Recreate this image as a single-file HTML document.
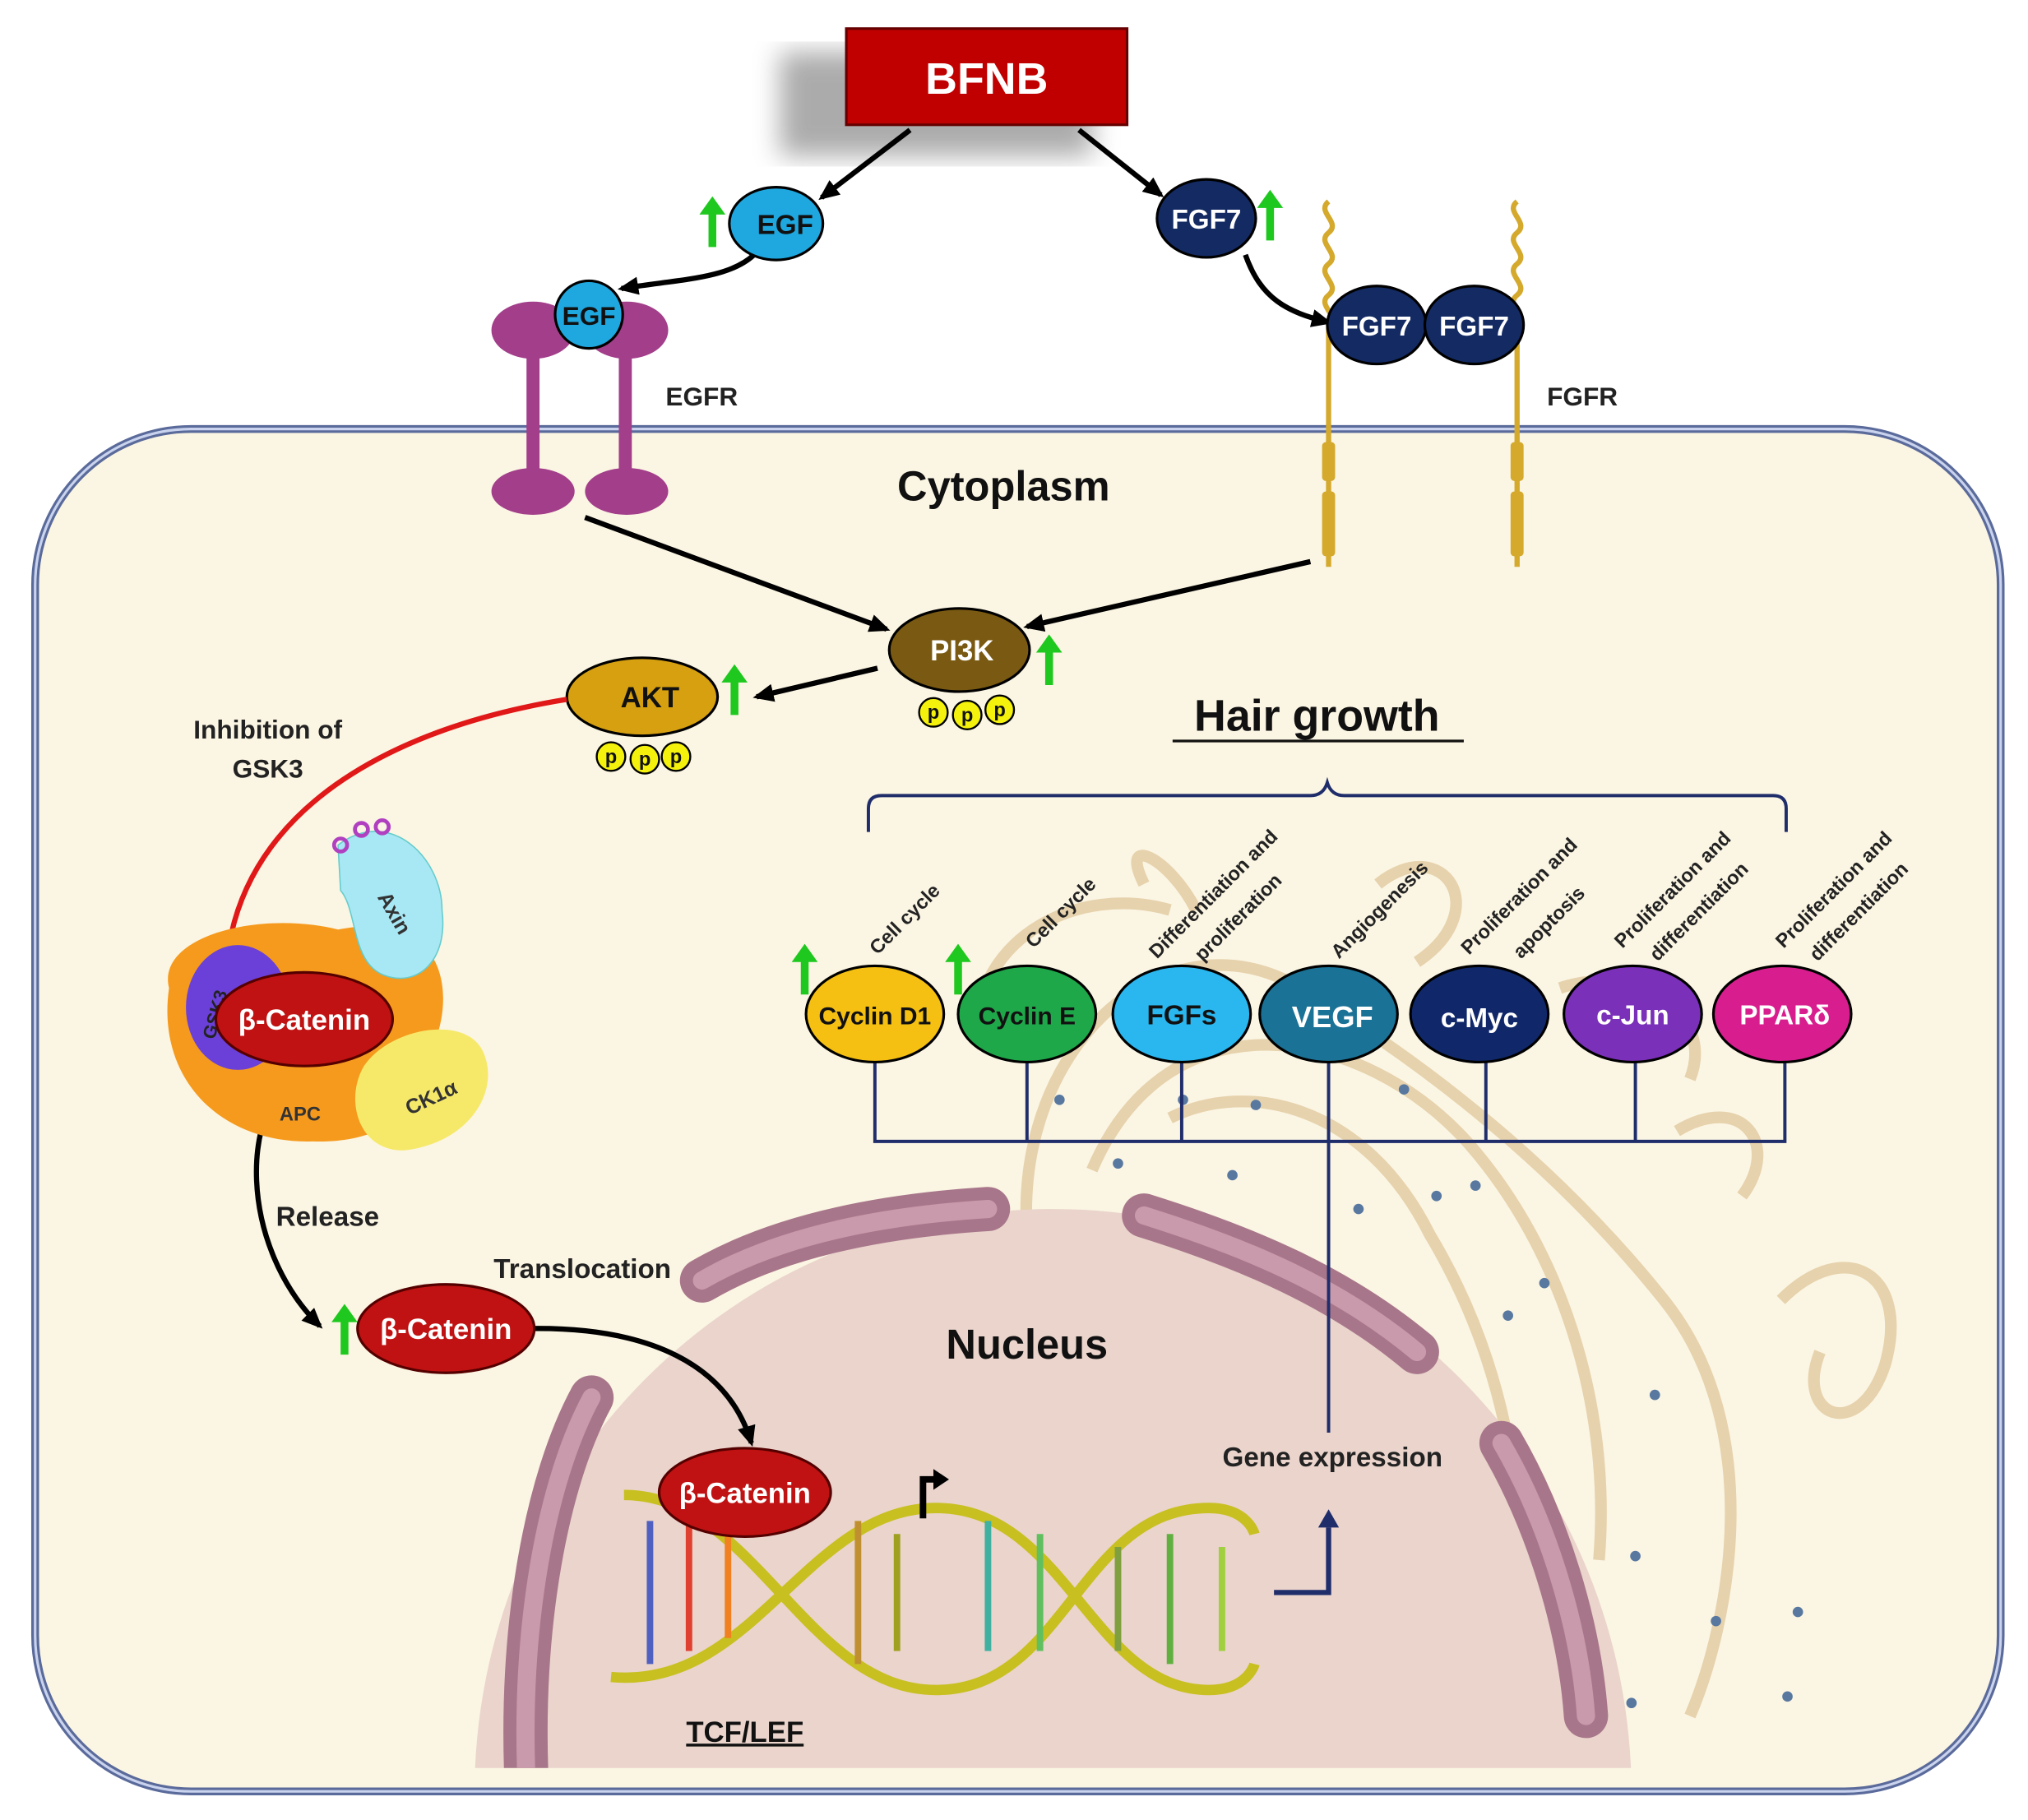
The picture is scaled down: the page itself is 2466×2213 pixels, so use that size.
<!DOCTYPE html>
<html><head><meta charset="utf-8"><style>
html,body{margin:0;padding:0;background:#fff;overflow:hidden;width:2466px;height:2213px}
svg{display:block}
text{font-family:"Liberation Sans",sans-serif;font-weight:bold}
</style></head><body>
<svg width="2466" height="2213" viewBox="0 0 1560 1400" xmlns="http://www.w3.org/2000/svg">
<defs>
<marker id="ah" markerWidth="16" markerHeight="14" refX="13" refY="7" orient="auto" markerUnits="userSpaceOnUse"><path d="M0,0 L16,7 L0,14 z" fill="#000"/></marker>
<marker id="ab" markerWidth="16" markerHeight="14" refX="13" refY="7" orient="auto" markerUnits="userSpaceOnUse"><path d="M0,0 L16,7 L0,14 z" fill="#1f2d6b"/></marker>
<filter id="sh"><feGaussianBlur stdDeviation="10"/></filter>
</defs>
<rect width="1560" height="1400" fill="#fff"/>
<rect x="27" y="330" width="1512" height="1048" rx="120" fill="#fbf5e3" stroke="#5a6a9a" stroke-width="6"/>
<rect x="27" y="330" width="1512" height="1048" rx="120" fill="none" stroke="#c9d3ee" stroke-width="2"/>
<g fill="none" stroke="#e6d2ac" stroke-width="9">
<path d="M790,950 C780,800 900,700 1000,760 C1100,820 1200,900 1280,1000 C1360,1100 1330,1250 1300,1320"/>
<path d="M840,900 C900,760 1050,790 1130,880 C1200,960 1240,1080 1230,1200"/>
<path d="M900,860 C960,830 1050,850 1100,950 C1160,1050 1170,1150 1170,1220"/>
<path d="M750,800 C750,720 830,680 900,700"/>
<path d="M880,680 C860,640 900,660 920,700"/>
<path d="M1370,1000 C1420,950 1470,980 1450,1050 C1430,1110 1380,1090 1400,1040"/>
<path d="M1290,870 C1340,840 1370,880 1340,920"/>
<path d="M1060,680 C1110,640 1150,700 1090,740"/>
<path d="M1200,760 C1260,740 1320,780 1300,830"/>
</g>
<g fill="#5878a0">
<circle cx="815" cy="846" r="4"/><circle cx="910" cy="846" r="4"/><circle cx="966" cy="850" r="4"/><circle cx="1080" cy="838" r="4"/><circle cx="860" cy="895" r="4"/><circle cx="948" cy="904" r="4"/><circle cx="1045" cy="930" r="4"/><circle cx="1105" cy="920" r="4"/><circle cx="1135" cy="912" r="4"/><circle cx="1188" cy="987" r="4"/><circle cx="1160" cy="1012" r="4"/><circle cx="1273" cy="1073" r="4"/><circle cx="1258" cy="1197" r="4"/><circle cx="1320" cy="1247" r="4"/><circle cx="1383" cy="1240" r="4"/><circle cx="1255" cy="1310" r="4"/><circle cx="1375" cy="1305" r="4"/>
</g>
<clipPath id="cc"><rect x="27" y="330" width="1512" height="1030"/></clipPath>
<g clip-path="url(#cc)">
<ellipse cx="810" cy="1380" rx="445" ry="450" fill="#ead4cc"/>
<g fill="none" stroke="#a8768a" stroke-width="34" stroke-linecap="round">
<path d="M540,985 C600,950 680,935 760,930"/>
<path d="M880,935 C960,960 1030,990 1090,1040"/>
<path d="M455,1075 C420,1140 400,1250 405,1370"/>
<path d="M1155,1110 C1190,1170 1215,1250 1220,1320"/>
</g>
<g fill="none" stroke="#c99aab" stroke-width="14" stroke-linecap="round">
<path d="M540,985 C600,950 680,935 760,930"/>
<path d="M880,935 C960,960 1030,990 1090,1040"/>
<path d="M455,1075 C420,1140 400,1250 405,1370"/>
<path d="M1155,1110 C1190,1170 1215,1250 1220,1320"/>
</g>
</g>
<rect x="600" y="40" width="240" height="80" fill="#888" filter="url(#sh)" opacity="0.7"/>
<rect x="651" y="22" width="216" height="74" fill="#c00000" stroke="#600" stroke-width="2"/>
<text x="759" y="72" font-size="34" fill="#fff" text-anchor="middle">BFNB</text>
<g stroke="#000" stroke-width="4" fill="none">
<line x1="700" y1="100" x2="632" y2="152" marker-end="url(#ah)"/>
<line x1="830" y1="100" x2="893" y2="150" marker-end="url(#ah)"/>
<path d="M580,196 C560,215 520,215 478,222" marker-end="url(#ah)"/>
<path d="M958,196 C970,230 990,240 1022,248" marker-end="url(#ah)"/>
<line x1="450" y1="398" x2="682" y2="484" marker-end="url(#ah)"/>
<line x1="1008" y1="432" x2="790" y2="482" marker-end="url(#ah)"/>
<line x1="675" y1="514" x2="582" y2="536" marker-end="url(#ah)"/>
<path d="M238,815 C180,850 185,960 246,1020" marker-end="url(#ah)"/>
<path d="M405,1022 C500,1020 560,1050 578,1110" marker-end="url(#ah)"/>
</g>
<g fill="#a23e8a">
<ellipse cx="410" cy="254" rx="32" ry="22"/><ellipse cx="482" cy="254" rx="32" ry="22"/>
<rect x="405" y="260" width="10" height="110"/><rect x="476" y="260" width="10" height="110"/>
<ellipse cx="410" cy="378" rx="32" ry="18"/><ellipse cx="482" cy="378" rx="32" ry="18"/>
</g>
<circle cx="453" cy="242" r="26" fill="#1fa8e0" stroke="#000" stroke-width="2"/>
<text x="453" y="250" font-size="20" fill="#111" text-anchor="middle">EGF</text>
<text x="512" y="312" font-size="20" fill="#222">EGFR</text>
<ellipse cx="597" cy="172" rx="36" ry="28" fill="#1fa8e0" stroke="#000" stroke-width="2"/>
<text x="604" y="180" font-size="21" fill="#111" text-anchor="middle">EGF</text>
<g stroke="#d4a92c" stroke-width="4" fill="none">
<path d="M1022,155 c-10,8 10,16 0,24 c-10,8 10,16 0,24 c-10,8 10,16 0,24 c-10,8 10,16 0,24 v185"/>
<path d="M1167,155 c-10,8 10,16 0,24 c-10,8 10,16 0,24 c-10,8 10,16 0,24 c-10,8 10,16 0,24 v185"/>
</g>
<g fill="#d4a92c">
<rect x="1017" y="340" width="10" height="30" rx="3"/><rect x="1017" y="378" width="10" height="50" rx="3"/>
<rect x="1162" y="340" width="10" height="30" rx="3"/><rect x="1162" y="378" width="10" height="50" rx="3"/>
</g>
<ellipse cx="928" cy="168" rx="38" ry="30" fill="#132a63" stroke="#000" stroke-width="2"/>
<text x="928" y="176" font-size="21" fill="#fff" text-anchor="middle">FGF7</text>
<ellipse cx="1059" cy="250" rx="38" ry="30" fill="#132a63" stroke="#000" stroke-width="2"/>
<text x="1059" y="258" font-size="21" fill="#fff" text-anchor="middle">FGF7</text>
<ellipse cx="1134" cy="250" rx="38" ry="30" fill="#132a63" stroke="#000" stroke-width="2"/>
<text x="1134" y="258" font-size="21" fill="#fff" text-anchor="middle">FGF7</text>
<text x="1190" y="312" font-size="20" fill="#222">FGFR</text>
<text x="772" y="385" font-size="32" fill="#111" text-anchor="middle">Cytoplasm</text>
<g fill="#1ec81e">
<path d="M545,190 h6 v-25 h7 l-10,-14 l-10,14 h7z"/>
<path d="M974,185 h6 v-25 h7 l-10,-14 l-10,14 h7z"/>
<path d="M804,527 h6 v-25 h7 l-10,-14 l-10,14 h7z"/>
<path d="M562,550 h6 v-25 h7 l-10,-14 l-10,14 h7z"/>
<path d="M616,765 h6 v-25 h7 l-10,-14 l-10,14 h7z"/>
<path d="M734,765 h6 v-25 h7 l-10,-14 l-10,14 h7z"/>
<path d="M262,1042 h6 v-25 h7 l-10,-14 l-10,14 h7z"/>
</g>
<ellipse cx="738" cy="500" rx="54" ry="32" fill="#7a5a12" stroke="#000" stroke-width="2"/>
<text x="740" y="508" font-size="22" fill="#fff" text-anchor="middle">PI3K</text>
<ellipse cx="494" cy="536" rx="58" ry="30" fill="#d6a010" stroke="#000" stroke-width="2"/>
<text x="500" y="544" font-size="22" fill="#111" text-anchor="middle">AKT</text>
<g fill="#f4f20c" stroke="#000" stroke-width="1.5">
<circle cx="718" cy="548" r="11"/><circle cx="744" cy="550" r="11"/><circle cx="769" cy="546" r="11"/>
<circle cx="470" cy="582" r="11"/><circle cx="496" cy="584" r="11"/><circle cx="520" cy="582" r="11"/>
<circle cx="211" cy="738" r="11"/><circle cx="233" cy="738" r="11"/><circle cx="255" cy="738" r="11"/>
</g>
<g font-size="15" fill="#111" text-anchor="middle" font-weight="normal">
<text x="718" y="553">p</text><text x="744" y="555">p</text><text x="769" y="551">p</text>
<text x="470" y="587">p</text><text x="496" y="589">p</text><text x="520" y="587">p</text>
<text x="211" y="743">p</text><text x="233" y="743">p</text><text x="255" y="743">p</text>
</g>
<text x="206" y="568" font-size="20" fill="#222" text-anchor="middle">Inhibition of</text>
<text x="206" y="598" font-size="20" fill="#222" text-anchor="middle">GSK3</text>
<path d="M436,538 C300,560 200,620 178,718" stroke="#e01818" stroke-width="4" fill="none"/>
<line x1="166" y1="720" x2="190" y2="722" stroke="#e01818" stroke-width="4"/>
<path d="M130,760 C120,720 200,700 260,715 C340,700 350,760 335,800 C330,850 300,880 240,878 C170,880 120,830 130,760z" fill="#f59a1d"/>
<ellipse cx="183" cy="775" rx="40" ry="48" fill="#6a40d8"/>
<text x="165" y="800" font-size="14" font-weight="normal" fill="#222" transform="rotate(-75 165 800)">GSK3</text>
<path d="M260,650 C300,620 340,660 340,700 C345,740 320,760 295,750 C270,740 275,700 262,685z" fill="#a8e8f4" stroke="#6cc" stroke-width="1"/>
<text x="290" y="690" font-size="16" font-weight="normal" fill="#333" transform="rotate(60 290 690)">Axin</text>
<g fill="none" stroke="#b040c0" stroke-width="3"><circle cx="262" cy="650" r="5"/><circle cx="278" cy="638" r="5"/><circle cx="294" cy="636" r="5"/></g>
<path d="M280,820 C300,790 360,780 372,810 C385,840 360,880 310,885 C275,885 265,845 280,820z" fill="#f6e96a"/>
<text x="315" y="858" font-size="16" font-weight="normal" fill="#333" transform="rotate(-25 315 858)">CK1α</text>
<text x="215" y="862" font-size="15" font-weight="normal" fill="#333">APC</text>
<ellipse cx="234" cy="784" rx="68" ry="36" fill="#c01212" stroke="#500" stroke-width="2"/>
<text x="234" y="792" font-size="22" fill="#fff" text-anchor="middle">β-Catenin</text>
<text x="252" y="943" font-size="21" fill="#222" text-anchor="middle">Release</text>
<text x="448" y="983" font-size="21" fill="#222" text-anchor="middle">Translocation</text>
<ellipse cx="343" cy="1022" rx="68" ry="34" fill="#c01212" stroke="#500" stroke-width="2"/>
<text x="343" y="1030" font-size="22" fill="#fff" text-anchor="middle">β-Catenin</text>
<text x="790" y="1045" font-size="32" fill="#111" text-anchor="middle">Nucleus</text>
<g fill="none" stroke="#c8c020" stroke-width="8">
<path d="M480,1150 C580,1150 620,1300 720,1300 C820,1300 830,1160 930,1160 C960,1160 965,1180 965,1180"/>
<path d="M470,1290 C580,1300 620,1160 720,1160 C820,1160 840,1300 930,1300 C960,1300 965,1280 965,1280"/>
</g>
<g stroke-width="5">
<line x1="500" y1="1170" x2="500" y2="1280" stroke="#5060c0"/><line x1="530" y1="1170" x2="530" y2="1270" stroke="#e04030"/>
<line x1="560" y1="1180" x2="560" y2="1260" stroke="#f08020"/><line x1="660" y1="1170" x2="660" y2="1280" stroke="#c09030"/>
<line x1="690" y1="1180" x2="690" y2="1270" stroke="#a0a020"/><line x1="760" y1="1170" x2="760" y2="1270" stroke="#40b0a0"/>
<line x1="800" y1="1180" x2="800" y2="1270" stroke="#60c060"/><line x1="860" y1="1190" x2="860" y2="1270" stroke="#80a040"/>
<line x1="900" y1="1180" x2="900" y2="1280" stroke="#60b040"/><line x1="940" y1="1190" x2="940" y2="1270" stroke="#a0d040"/>
</g>
<ellipse cx="573" cy="1148" rx="66" ry="34" fill="#c01212" stroke="#500" stroke-width="2"/>
<text x="573" y="1156" font-size="22" fill="#fff" text-anchor="middle">β-Catenin</text>
<path d="M710,1168 v-30 h10" stroke="#000" stroke-width="5" fill="none"/>
<path d="M718,1130 l12,8 l-12,8z" fill="#000"/>
<text x="573" y="1340" font-size="22" fill="#111" text-anchor="middle" text-decoration="underline">TCF/LEF</text>
<text x="1025" y="1128" font-size="21" fill="#222" text-anchor="middle">Gene expression</text>
<path d="M980,1225 h42 v-50" stroke="#1f2d6b" stroke-width="4" fill="none"/>
<path d="M1014,1175 l8,-14 l8,14z" fill="#1f2d6b"/>
<line x1="1022" y1="1102" x2="1022" y2="812" stroke="#1f2d6b" stroke-width="2.5"/>
<text x="1013" y="562" font-size="34" fill="#111" text-anchor="middle">Hair growth</text>
<line x1="902" y1="570" x2="1126" y2="570" stroke="#111" stroke-width="2"/>
<path d="M668,640 v-18 q0,-10 10,-10 h330 q10,0 13,-10 q3,10 13,10 h330 q10,0 10,10 v18" stroke="#1f2d6b" stroke-width="2.5" fill="none"/>
<g stroke="#1f2d6b" stroke-width="2.5" fill="none">
<path d="M673,815 v63 h700 v-63"/>
<line x1="790" y1="815" x2="790" y2="878"/><line x1="909" y1="815" x2="909" y2="878"/>
<line x1="1143" y1="815" x2="1143" y2="878"/><line x1="1258" y1="815" x2="1258" y2="878"/>
</g>
<g stroke="#000" stroke-width="2">
<ellipse cx="673" cy="780" rx="53" ry="37" fill="#f5c012"/>
<ellipse cx="790" cy="780" rx="53" ry="37" fill="#1fa84a"/>
<ellipse cx="909" cy="780" rx="53" ry="37" fill="#2ab6ee"/>
<ellipse cx="1022" cy="780" rx="53" ry="37" fill="#1a7296"/>
<ellipse cx="1138" cy="780" rx="53" ry="37" fill="#10286a"/>
<ellipse cx="1256" cy="780" rx="53" ry="37" fill="#7a30b8"/>
<ellipse cx="1371" cy="780" rx="53" ry="37" fill="#d81e8e"/>
</g>
<g font-size="21" text-anchor="middle">
<text x="673" y="788" fill="#111" font-size="19">Cyclin D1</text>
<text x="790" y="788" fill="#111" font-size="19">Cyclin E</text>
<text x="909" y="788" fill="#111">FGFs</text>
<text x="1025" y="790" fill="#fff" font-size="23">VEGF</text>
<text x="1138" y="790" fill="#fff">c-Myc</text>
<text x="1256" y="788" fill="#fff">c-Jun</text>
<text x="1373" y="788" fill="#fff">PPARδ</text>
</g>
<g font-size="15" fill="#222">
<text transform="translate(675,735) rotate(-45)">Cell cycle</text>
<text transform="translate(795,730) rotate(-45)">Cell cycle</text>
<text transform="translate(890,738) rotate(-45)">Differentiation and</text>
<text transform="translate(925,740) rotate(-45)">proliferation</text>
<text transform="translate(1030,738) rotate(-45)">Angiogenesis</text>
<text transform="translate(1130,735) rotate(-45)">Proliferation and</text>
<text transform="translate(1170,738) rotate(-45)">apoptosis</text>
<text transform="translate(1248,730) rotate(-45)">Proliferation and</text>
<text transform="translate(1275,740) rotate(-45)">differentiation</text>
<text transform="translate(1372,730) rotate(-45)">Proliferation and</text>
<text transform="translate(1398,740) rotate(-45)">differentiation</text>
</g>
</svg>
</body></html>
